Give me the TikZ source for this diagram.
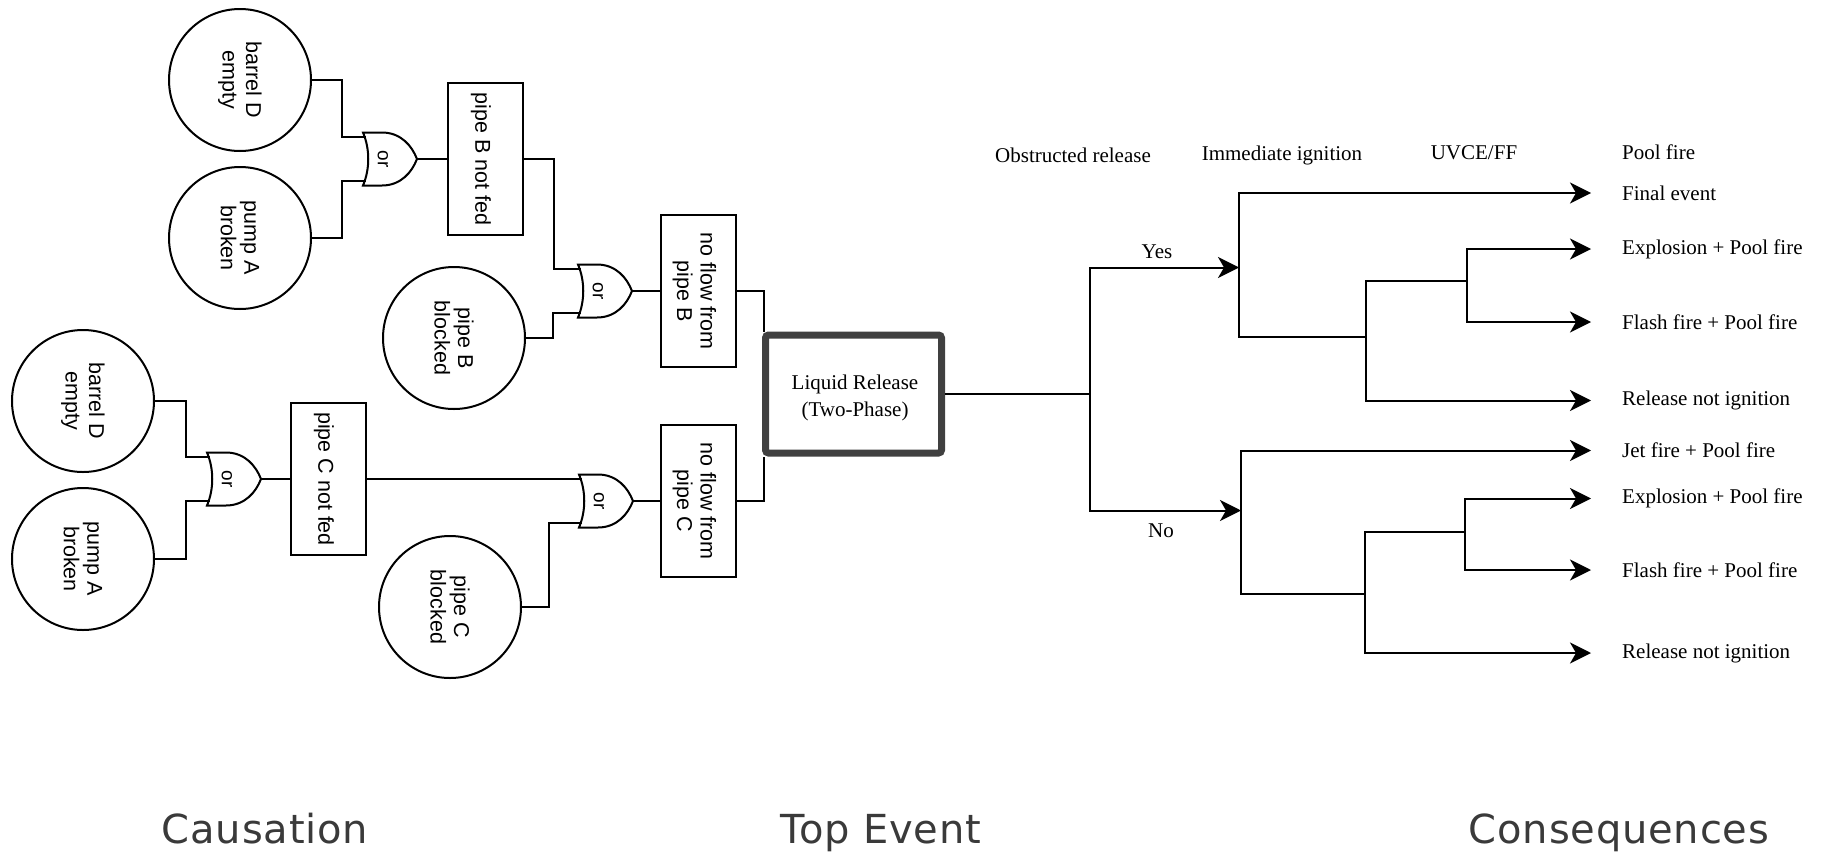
\documentclass[tikz,border=0pt]{standalone}
\usepackage{fontspec}
\setmainfont{Liberation Serif}
\setsansfont{Liberation Sans}
\newfontfamily\captionfont[LetterSpace=2]{DejaVu Sans}
\usetikzlibrary{arrows.meta}

\definecolor{inkgray}{HTML}{404040}
\definecolor{captiongray}{HTML}{3A3A3A}

\tikzset{
  wire/.style={line width=2pt, black},
  basic/.style={circle, draw, line width=2pt, minimum size=142pt, inner sep=0pt},
  ftbox/.style={rectangle, draw, line width=2pt, minimum width=75pt, minimum height=152pt, inner sep=0pt},
  fttext/.style={rotate=-90, align=center, font=\sffamily\fontsize{21.5}{23.5}\selectfont, inner sep=0pt},
  gatetext/.style={rotate=-90, font=\sffamily\fontsize{19}{21}\selectfont, inner sep=0pt},
  topevent/.style={rectangle, draw=inkgray, line width=7pt, rounded corners=3pt,
    minimum width=176pt, minimum height=118pt, inner sep=0pt},
  ettext/.style={font=\fontsize{21}{27}\selectfont, inner sep=0pt},
  outcome/.style={ettext, anchor=west},
  branch/.style={line width=2pt, black},
  tip/.style={-{Stealth[length=21pt,width=21pt,inset=6pt]}},
  caption/.style={font=\captionfont\fontsize{40}{48}\selectfont, text=captiongray, anchor=base, inner sep=0pt},
}

% OR gate pointing right: #1 name, #2 left x, #3 centre y
\newcommand\orgate[3]{%
  \begin{scope}[shift={(#2,#3)}]
    \draw[wire, fill=white] (0,-26.5) -- (19,-26.5)
      .. controls (38,-26.5) and (49,-13) .. (54,0)
      .. controls (49,13) and (38,26.5) .. (19,26.5) -- (0,26.5)
      .. controls (7,10) and (7,-10) .. (0,-26.5) -- cycle;
    \coordinate (#1-a) at (2.5,-22);
    \coordinate (#1-b) at (2.5,22);
    \coordinate (#1-out) at (54,0);
    \node[gatetext] (#1-label) at (20,0) {or};
  \end{scope}}

\begin{document}
\begin{tikzpicture}[x=1pt, y=-1pt]
\fill[white] (0,0) rectangle (1824,857);
\useasboundingbox (0,0) rectangle (1824,857);

% ---------- fault tree, pipe B ----------
\node[basic] (bdB) at (240,80) {};
\node[fttext] (bdBt) at (bdB) {barrel D\\empty};
\node[basic] (paB) at (240,238) {};
\node[fttext] (paBt) at (paB) {pump A\\broken};
\orgate{gB1}{363}{159}
\node[ftbox] (nfB) at (485,159) {};
\node[fttext] (nfBt) at ([xshift=-4pt]nfB.center) {pipe B not fed};
\draw[wire] (bdB.east) -- ++(30,0) |- (gB1-a);
\draw[wire] (paB.east) -- ++(30,0) |- (gB1-b);
\draw[wire] (gB1-out) -- (nfB.west);

\node[basic] (pbB) at (454,338) {};
\node[fttext] (pbBt) at (pbB) {pipe B\\blocked};
\orgate{gB2}{578}{291}
\node[ftbox] (noB) at (698.5,291) {};
\node[fttext] (noBt) at ([xshift=-4pt]noB.center) {no flow from\\pipe B};
\draw[wire] (nfB.east) -- ++(30,0) |- (gB2-a);
\draw[wire] (pbB.east) -- ++(27,0) |- (gB2-b);
\draw[wire] (gB2-out) -- (noB.west);

% ---------- fault tree, pipe C ----------
\node[basic] (bdC) at (83,401) {};
\node[fttext] (bdCt) at (bdC) {barrel D\\empty};
\node[basic] (paC) at (83,559) {};
\node[fttext] (paCt) at (paC) {pump A\\broken};
\orgate{gC1}{207}{479}
\node[ftbox] (nfC) at (328,479) {};
\node[fttext] (nfCt) at ([xshift=-4pt]nfC.center) {pipe C not fed};
\draw[wire] (bdC.east) -- ++(31,0) |- (gC1-a);
\draw[wire] (paC.east) -- ++(31,0) |- (gC1-b);
\draw[wire] (gC1-out) -- (nfC.west);

\node[basic] (pbC) at (450,607) {};
\node[fttext] (pbCt) at (pbC) {pipe C\\blocked};
\orgate{gC2}{579}{501}
\node[ftbox] (noC) at (698.5,501) {};
\node[fttext] (noCt) at ([xshift=-4pt]noC.center) {no flow from\\pipe C};
\draw[wire] (nfC.east) -- (gC2-a);
\draw[wire] (pbC.east) -- ++(27,0) |- (gC2-b);
\draw[wire] (gC2-out) -- (noC.west);

% ---------- top event ----------
\node[topevent] (top) at (853.5,394) {};
\node[ettext, align=center] (topt) at (855,398) {Liquid Release\\(Two-Phase)};
\draw[wire] (noB.east) -| ([xshift=2pt]top.north west);
\draw[wire] (noC.east) -| ([xshift=2pt]top.south west);

% ---------- event tree ----------
\node[ettext] (h1) at (1073,155) {Obstructed release};
\node[ettext] (h2) at (1282,155) {Immediate ignition};
\node[ettext] (h3) at (1474,153) {UVCE/FF};
\node[outcome] (h4) at (1622,152) {Pool fire};

\node[outcome] (o1) at (1622,193) {Final event};
\node[outcome] (o2) at (1622,249) {Explosion + Pool fire};
\node[outcome] (o3) at (1622,322) {Flash fire + Pool fire};
\node[outcome] (o4) at (1622,400.5) {Release not ignition};
\node[outcome] (o5) at (1622,450.5) {Jet fire + Pool fire};
\node[outcome] (o6) at (1622,498.5) {Explosion + Pool fire};
\node[outcome] (o7) at (1622,570) {Flash fire + Pool fire};
\node[outcome] (o8) at (1622,653) {Release not ignition};

\coordinate (split) at (1090,394);
\coordinate (ey) at (1239,267.5);
\coordinate (en) at (1241,510.5);
\draw[branch] (top.east) -- (split);
\draw[branch,tip] (split) |- (ey);
\draw[branch,tip] (split) |- (en);
\node[ettext] (lyes) at (1157,252) {Yes};
\node[ettext] (lno) at (1161,531) {No};

% obstructed release: yes
\coordinate (fy) at (1366,337);
\coordinate (hy) at (1467,281);
\draw[branch,tip] (ey) |- ([xshift=-31pt]o1.west);
\draw[branch] (ey) |- (fy);
\draw[branch] (fy) |- (hy);
\draw[branch,tip] (fy) |- ([xshift=-31pt]o4.west);
\draw[branch,tip] (hy) |- ([xshift=-31pt]o2.west);
\draw[branch,tip] (hy) |- ([xshift=-31pt]o3.west);

% obstructed release: no
\coordinate (fn) at (1365,594);
\coordinate (hn) at (1465,532);
\draw[branch,tip] (en) |- ([xshift=-31pt]o5.west);
\draw[branch] (en) |- (fn);
\draw[branch] (fn) |- (hn);
\draw[branch,tip] (fn) |- ([xshift=-31pt]o8.west);
\draw[branch,tip] (hn) |- ([xshift=-31pt]o6.west);
\draw[branch,tip] (hn) |- ([xshift=-31pt]o7.west);

% ---------- section captions ----------
\node[caption] (cap1) at (265,843) {Causation};
\node[caption] (cap2) at (881,843) {Top Event};
\node[caption] (cap3) at (1619,843) {Consequences};
\end{tikzpicture}
\end{document}
